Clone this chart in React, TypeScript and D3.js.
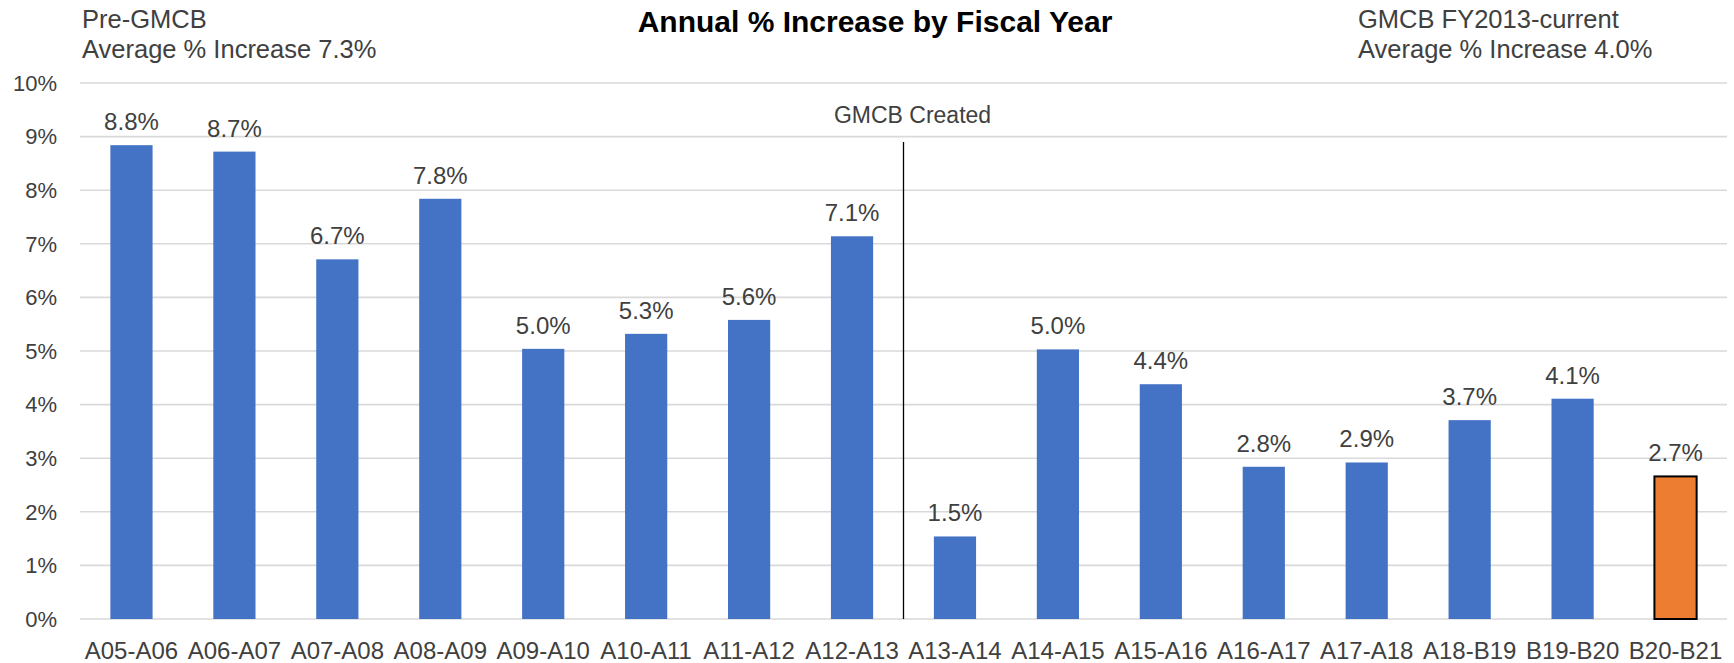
import React from "react";
import * as d3 from "d3";

const categories = [
  "A05-A06", "A06-A07", "A07-A08", "A08-A09", "A09-A10", "A10-A11", "A11-A12", "A12-A13",
  "A13-A14", "A14-A15", "A15-A16", "A16-A17", "A17-A18", "A18-B19", "B19-B20", "B20-B21",
];
const values = [8.84, 8.72, 6.71, 7.84, 5.04, 5.32, 5.58, 7.14, 1.54, 5.03, 4.38, 2.84, 2.92, 3.71, 4.11, 2.66];
const labels = ["8.8%", "8.7%", "6.7%", "7.8%", "5.0%", "5.3%", "5.6%", "7.1%", "1.5%", "5.0%", "4.4%", "2.8%", "2.9%", "3.7%", "4.1%", "2.7%"];
const yTicks = [0, 1, 2, 3, 4, 5, 6, 7, 8, 9, 10];
const highlightIndex = 15;
const dividerAfterIndex = 7;
const title = "Annual % Increase by Fiscal Year";
const leftNote = ["Pre-GMCB", "Average % Increase 7.3%"];
const rightNote = ["GMCB FY2013-current", "Average % Increase 4.0%"];
const dividerLabel = "GMCB Created";

const W = 1734;
const H = 663;
const FONT = "'Liberation Sans', Arial, sans-serif";
const TEXT = "#404040";

export default function App() {
  const x = d3
    .scaleBand<string>()
    .domain(categories)
    .range([80, 1727])
    .paddingInner(0.59)
    .paddingOuter(0.295);
  const y = d3.scaleLinear().domain([0, 10]).range([619, 83]);
  const bw = x.bandwidth();
  const step = x.step();
  const divX = (x(categories[dividerAfterIndex]) as number) + bw + (step - bw) / 2;

  return (
    <svg
      width={W}
      height={H}
      style={{ position: "absolute", left: 0, top: 0, background: "#fff" }}
      fontFamily={FONT}
    >
      {yTicks.map((t) => (
        <g key={t}>
          <line x1={80} x2={1727} y1={y(t)} y2={y(t)} stroke="#d9d9d9" strokeWidth={1.6} />
          <text x={57} y={y(t)} dy="0.35em" textAnchor="end" fontSize={22} fill={TEXT}>
            {t}%
          </text>
        </g>
      ))}
      {categories.map((c, i) => (
        <g key={c}>
          <rect
            x={x(c)}
            y={y(values[i])}
            width={bw}
            height={y(0) - y(values[i])}
            fill={i === highlightIndex ? "#ED7D31" : "#4472C4"}
            stroke={i === highlightIndex ? "#000" : "none"}
            strokeWidth={2}
          />
          <text
            x={(x(c) as number) + bw / 2}
            y={y(values[i]) - 15}
            textAnchor="middle"
            fontSize={24}
            fill={TEXT}
          >
            {labels[i]}
          </text>
          <text
            x={(x(c) as number) + bw / 2}
            y={659}
            textAnchor="middle"
            fontSize={24}
            fill={TEXT}
          >
            {c}
          </text>
        </g>
      ))}
      <line x1={divX} x2={divX} y1={142} y2={y(0)} stroke="#000" strokeWidth={1.3} />
      <text x={divX + 9} y={123} textAnchor="middle" fontSize={23} fill={TEXT}>
        {dividerLabel}
      </text>
      <text x={875} y={32} textAnchor="middle" fontSize={30} fontWeight="bold" fill="#000">
        {title}
      </text>
      <text x={82} y={28} fontSize={25.5} fill={TEXT}>
        {leftNote[0]}
      </text>
      <text x={82} y={58} fontSize={25.5} fill={TEXT}>
        {leftNote[1]}
      </text>
      <text x={1358} y={28} fontSize={25.5} fill={TEXT}>
        {rightNote[0]}
      </text>
      <text x={1358} y={58} fontSize={25.5} fill={TEXT}>
        {rightNote[1]}
      </text>
    </svg>
  );
}
